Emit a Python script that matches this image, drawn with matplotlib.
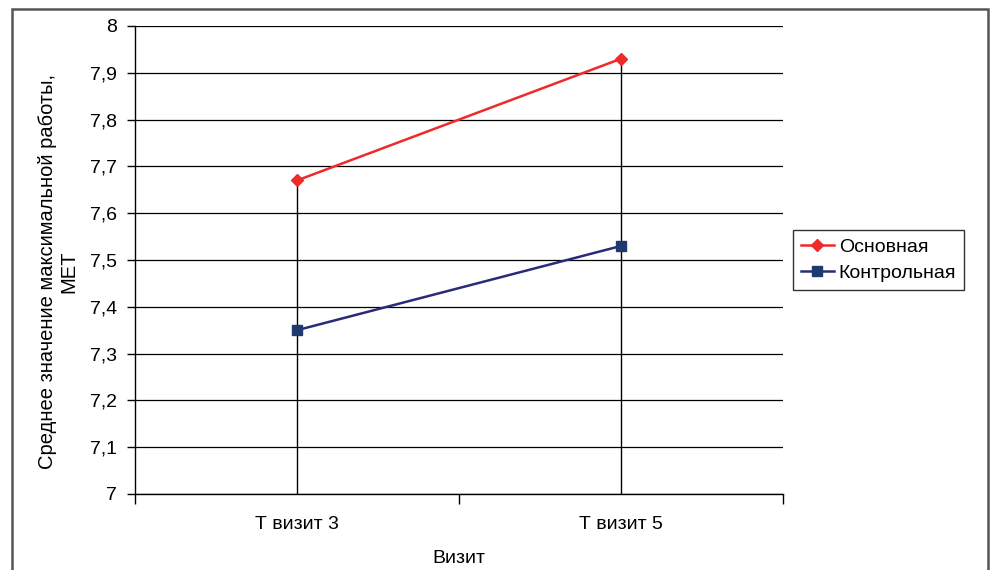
import matplotlib
matplotlib.use("Agg")
import matplotlib.pyplot as plt
from matplotlib.patches import Rectangle

plt.rcParams["font.family"] = ["Liberation Sans", "DejaVu Sans"]

categories = ["Т визит 3", "Т визит 5"]
osnovnaya = [7.67, 7.93]
kontrolnaya = [7.35, 7.53]
yticks = [7.0, 7.1, 7.2, 7.3, 7.4, 7.5, 7.6, 7.7, 7.8, 7.9, 8.0]

W, H = 997, 570
fig = plt.figure(figsize=(W / 100, H / 100), dpi=100)
# plot area in pixels: x 135..783, y 26..494
ax = fig.add_axes([135 / W, 1 - 494 / H, (783 - 135) / W, (494 - 26) / H])

x = list(range(len(categories)))

ax.set_axisbelow(True)
ax.yaxis.grid(True, color="black", lw=0.9)
# drop lines from each point to the axis
for xi, top in zip(x, [max(a, b) for a, b in zip(osnovnaya, kontrolnaya)]):
    ax.plot([xi, xi], [7.0, top], color="black", lw=1.0, zorder=1)

ax.plot(x, osnovnaya, color="#ee2a2a", lw=1.8, marker="D", ms=6,
        markerfacecolor="#ee2a2a", markeredgecolor="#ee2a2a", label="Основная", zorder=3)
ax.plot(x, kontrolnaya, color="#2a2a7a", lw=1.8, marker="s", ms=7,
        markerfacecolor="#1f3a6e", markeredgecolor="#1f3a6e", label="Контрольная", zorder=3)

ax.set_xlim(-0.5, 1.5)
ax.set_ylim(7.0, 8.0)
ax.set_yticks(yticks)
ax.set_yticklabels([("%g" % v).replace(".", ",") for v in yticks], fontsize=14)
ax.set_xticks([-0.5, 0.5, 1.5])
ax.set_xticklabels([])
ax.set_xticks(x, minor=True)
ax.set_xticklabels(categories, minor=True, fontsize=14)
ax.tick_params(axis="x", which="major", direction="out", length=7, width=1, color="black")
ax.tick_params(axis="x", which="minor", length=0, pad=16)
ax.tick_params(axis="y", direction="out", length=6, width=1, pad=7)

for s in ("top", "right"):
    ax.spines[s].set_visible(False)
for s in ("left", "bottom"):
    ax.spines[s].set_linewidth(1.0)
    ax.spines[s].set_color("black")

ax.set_xlabel("Визит", fontsize=14, labelpad=12)
ax.set_ylabel("Среднее значение максимальной работы,\nМЕТ", fontsize=14.5, labelpad=11)
ax.yaxis.set_label_coords(-0.087, 0.475)

leg = ax.legend(loc="center left", bbox_to_anchor=((793 - 135) / 648, 0.5),
                fontsize=14, frameon=True, fancybox=False, edgecolor="black",
                handlelength=1.7, borderpad=0.4, labelspacing=0.45, handletextpad=0.25,
                borderaxespad=0)
leg.get_frame().set_linewidth(1.0)

# outer chart border
fig.patches.append(Rectangle((12 / W, -0.05), (988 - 12) / W, 1 - 9 / H + 0.05,
                             transform=fig.transFigure, fill=False,
                             edgecolor="#555555", lw=1.8))

fig.savefig("out.png", dpi=100)
